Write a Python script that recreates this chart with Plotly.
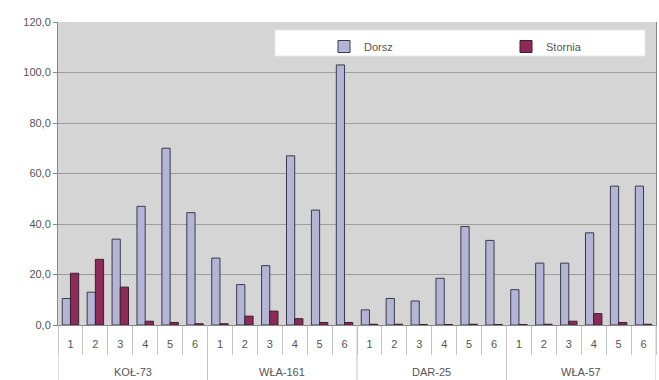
import plotly.graph_objects as go

# Sampling stations and haul numbers
stations = ["KOŁ-73", "WŁA-161", "DAR-25", "WŁA-57"]
hauls = ["1", "2", "3", "4", "5", "6"]

# Values per haul, grouped by station
dorsz = [10.5, 13.0, 34.0, 47.0, 70.0, 44.5,
         26.5, 16.0, 23.5, 67.0, 45.5, 103.0,
         6.0, 10.5, 9.5, 18.5, 39.0, 33.5,
         14.0, 24.5, 24.5, 36.5, 55.0, 55.0]
stornia = [20.5, 26.0, 15.0, 1.5, 1.0, 0.5,
           0.5, 3.5, 5.5, 2.5, 1.0, 1.0,
           0.3, 0.3, 0.2, 0.2, 0.3, 0.2,
           0.2, 0.3, 1.5, 4.5, 1.0, 0.3]

# one unique category per haul; the axis shows only the haul number
cats = [f"{s}|{h}" for s in stations for h in hauls]
haul_labels = [h for _ in stations for h in hauls]

TXT = "#555555"
LINE = "#c4c4c4"
PLOT_H = 303  # plot area height in px (380 - 22 - 55)

fig = go.Figure()
fig.add_trace(go.Bar(
    x=cats, y=dorsz, name="Dorsz", legend="legend",
    marker=dict(color="#b3b4d6", line=dict(color="#3a3a4a", width=1)),
))
fig.add_trace(go.Bar(
    x=cats, y=stornia, name="Stornia", legend="legend2",
    marker=dict(color="#8e2a57", line=dict(color="#3a2030", width=1)),
))

# white legend panel
fig.add_shape(type="rect", xref="paper", yref="paper",
              x0=(275 - 58) / 598, x1=(645 - 58) / 598,
              y0=(325 - 56) / PLOT_H, y1=(325 - 30) / PLOT_H,
              fillcolor="white", line=dict(color="#e6e6e6", width=1), layer="above")

# station labels and full-height dividers under the haul numbers
n = len(hauls)
for i, s in enumerate(stations):
    fig.add_annotation(x=i * n + (n - 1) / 2, xref="x", y=-47 / PLOT_H, yref="paper",
                       yanchor="middle", text=s, showarrow=False,
                       font=dict(size=11, color=TXT))
for i in range(len(stations) + 1):
    fig.add_shape(type="line", xref="x", yref="paper",
                  x0=i * n - 0.5, x1=i * n - 0.5, y0=0, y1=-55 / PLOT_H,
                  line=dict(color=LINE, width=1))

legend_common = dict(
    orientation="h", yanchor="top", xanchor="left",
    bgcolor="rgba(0,0,0,0)", font=dict(size=11, color=TXT), itemwidth=30,
)

fig.update_layout(
    width=659, height=380,
    margin=dict(l=58, r=3, t=22, b=55),
    paper_bgcolor="white",
    plot_bgcolor="#d5d5d5",
    barmode="group",
    bargap=0.34,
    bargroupgap=0,
    separators=", ",
    font=dict(family="Liberation Sans, Arial, sans-serif", size=11, color=TXT),
    showlegend=True,
    legend=dict(x=(324 - 58) / 598, y=(325 - 32) / PLOT_H, **legend_common),
    legend2=dict(x=(506 - 58) / 598, y=(325 - 32) / PLOT_H, **legend_common),
    xaxis=dict(
        type="category",
        tickvals=cats, ticktext=haul_labels,
        showgrid=False,
        ticks="outside", tickson="boundaries", ticklen=29,
        tickcolor=LINE, ticklabelstandoff=9,
        showline=True, linecolor="#888888",
        tickfont=dict(size=11, color=TXT),
        range=[-0.5, len(cats) - 0.5],
    ),
    yaxis=dict(
        range=[0, 120], tick0=0, dtick=20, tickformat=".1f",
        showgrid=True, gridcolor="#9c9c9c", gridwidth=1,
        ticks="outside", ticklen=4, tickcolor="#888888",
        showline=True, linecolor="#888888", mirror=True,
        tickfont=dict(size=11, color=TXT), zeroline=False,
    ),
)

fig.write_html("out.html")
